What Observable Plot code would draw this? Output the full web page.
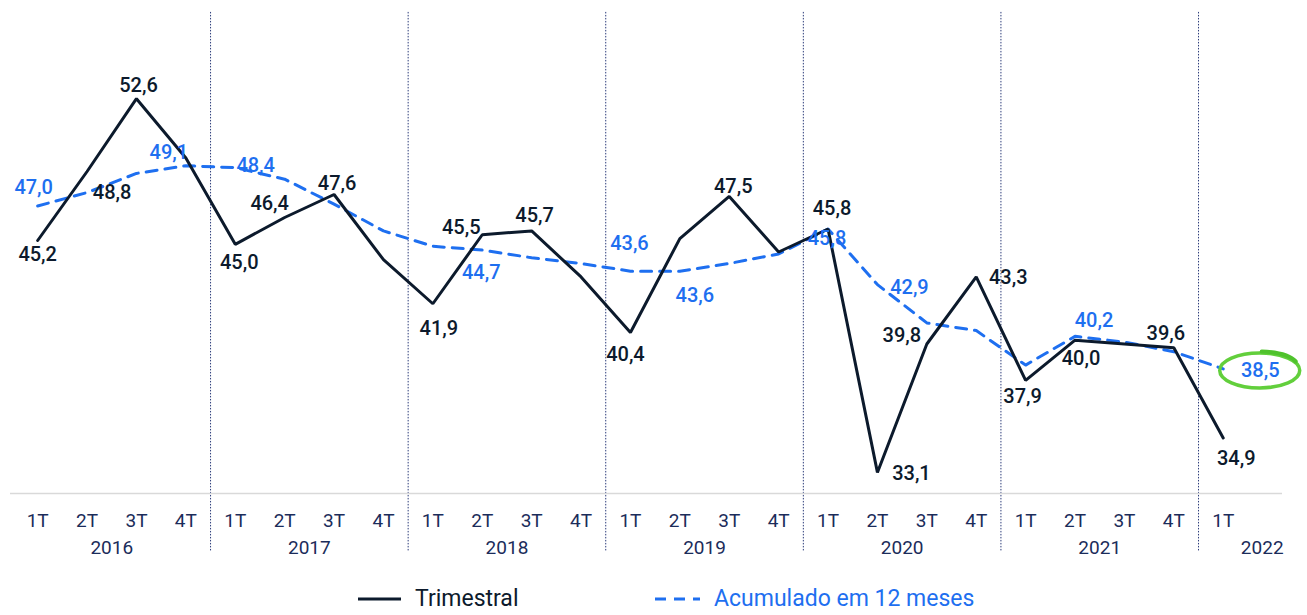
<!DOCTYPE html>
<html>
<head>
<meta charset="utf-8">
<script src="https://cdn.jsdelivr.net/npm/d3@7"></script>
<script src="https://cdn.jsdelivr.net/npm/@observablehq/plot@0.6"></script>
<style>
  html, body { margin: 0; padding: 0; background: #fff; }
  body { width: 1307px; height: 615px; overflow: hidden; font-family: Roboto, "Noto Sans", sans-serif; }
  #legend { position: relative; height: 35px; }
  .item { position: absolute; top: 5px; display: flex; align-items: center; font-size: 23px; font-weight: 400; }
  .item svg { margin-right: 14px; }
</style>
</head>
<body>
<div id="chart"></div>
<div id="legend">
  <div class="item" style="left:358px;color:#0c1a2c">
    <svg width="43" height="6"><line x1="0" y1="3" x2="43" y2="3" stroke="#0c1a2c" stroke-width="3"/></svg>Trimestral
  </div>
  <div class="item" style="left:655px;color:#1e6ff0">
    <svg width="45" height="6"><line x1="0" y1="3" x2="45" y2="3" stroke="#1e6ff0" stroke-width="3" stroke-dasharray="11,8"/></svg>Acumulado em 12 meses
  </div>
</div>
<script>
// ---- data ----
const years = ["2016", "2017", "2018", "2019", "2020", "2021", "2022"];
const quarterLabels = ["1T", "2T", "3T", "4T"];
const trimestral = [45.2, 48.8, 52.6, 49.5, 45.0, 46.4, 47.6, 44.2, 41.9, 45.5, 45.7, 43.3, 40.4, 45.3, 47.5, 44.6, 45.8, 33.1, 39.8, 43.3, 37.9, 40.0, 39.8, 39.6, 34.9];
const acumulado  = [47.0, 47.7, 48.7, 49.1, 49.0, 48.4, 47.1, 45.7, 44.9, 44.7, 44.3, 44.0, 43.6, 43.6, 44.0, 44.5, 45.8, 42.9, 40.9, 40.5, 38.7, 40.2, 39.9, 39.4, 38.5];

// label placement (index -> [dx, dy])
const trimLabelOffsets = {0:[0,14],1:[25,21],2:[2,-13],4:[4,18],5:[-15,-14],6:[3,-11],8:[6,25],9:[-21,-7],10:[3,-15],12:[-5,22],14:[4,-10],16:[4,-20],17:[34,1],18:[-25,-8],19:[32,1],20:[-3,16],21:[6,18],23:[-8,-14],24:[13,21]};
const acumLabelOffsets = {0:[-4,-18],3:[-17,-13],5:[-29,-14],9:[-1,23],12:[-1,-28],13:[15,24],16:[-1,10],17:[32,3],21:[19,-16],24:[37,2]};

const fmt = v => v.toFixed(1).replace(".", ",");
const rows = trimestral.map((v, i) => ({i, year: years[Math.floor(i / 4)], q: quarterLabels[i % 4], trim: v, acum: acumulado[i]}));
const yearRows = years.map(y => {
  const idx = rows.filter(d => d.year === y).map(d => d.i);
  return {year: y, x: d3.mean(idx), partial: idx.length < 4};
});
const separators = years.slice(1).map(y => rows.find(d => d.year === y).i - 0.5);

const navy = "#0c1a2c", blue = "#1e6ff0", tickCol = "#1b2c5a";
const font = "Roboto, 'Noto Sans', sans-serif";

const labelMarks = (offsets, key, color) =>
  Object.entries(offsets).map(([i, [dx, dy]]) =>
    Plot.text([rows[+i]], {x: "i", y: key, text: d => fmt(d[key]), dx, dy, fontSize: 20, fontWeight: 500, fill: color}));

const yearMarks = yearRows.map(d =>
  Plot.text([d], {x: "x", frameAnchor: "bottom", dy: 60, dx: d.partial ? 39 : 0, text: "year", fontSize: 19, fontWeight: 400, fill: tickCol}));

const ellipseMark = (index, scales) => {
  const g = d3.create("svg:g");
  const cx = scales.x(24) + 37, cy = scales.y(acumulado[24]) + 2;
  g.append("ellipse").attr("cx", cx).attr("cy", cy).attr("rx", 40).attr("ry", 17.5)
    .attr("fill", "none").attr("stroke", "#62cf3c").attr("stroke-width", 3.5);
  g.append("path").attr("d", `M${cx + 2},${cy - 19} Q${cx + 28},${cy - 18} ${cx + 36},${cy - 9}`)
    .attr("fill", "none").attr("stroke", "#4fc22c").attr("stroke-width", 4).attr("stroke-linecap", "round");
  return g.node();
};

const chart = Plot.plot({
  width: 1307,
  height: 580,
  marginLeft: 10,
  marginRight: 25,
  marginTop: 10,
  marginBottom: 87,
  style: {fontFamily: font, background: "#fff"},
  x: {type: "linear", domain: [-0.55, 25.2], axis: null},
  y: {domain: [32, 57.2], axis: null},
  marks: [
    Plot.ruleX(separators, {x: d => d, y1: 57.1, y2: 29.0, stroke: "#2c3c7a", strokeWidth: 1, strokeDasharray: "1.5,1.5"}),
    Plot.ruleY([32], {stroke: "#d9d9d9", strokeWidth: 1.5}),
    Plot.axisX({ticks: d3.range(trimestral.length), tickFormat: i => quarterLabels[i % 4], tickSize: 0, tickPadding: 20, fontSize: 19, fontWeight: 400, fill: tickCol, label: null}),
    ...yearMarks,
    Plot.lineY(rows, {x: "i", y: "acum", stroke: blue, strokeWidth: 3, strokeDasharray: "11,8"}),
    Plot.lineY(rows, {x: "i", y: "trim", stroke: navy, strokeWidth: 3, strokeLinejoin: "miter"}),
    ...labelMarks(trimLabelOffsets, "trim", navy),
    ...labelMarks(acumLabelOffsets, "acum", blue),
    ellipseMark
  ]
});
document.getElementById("chart").appendChild(chart);
</script>
</body>
</html>
